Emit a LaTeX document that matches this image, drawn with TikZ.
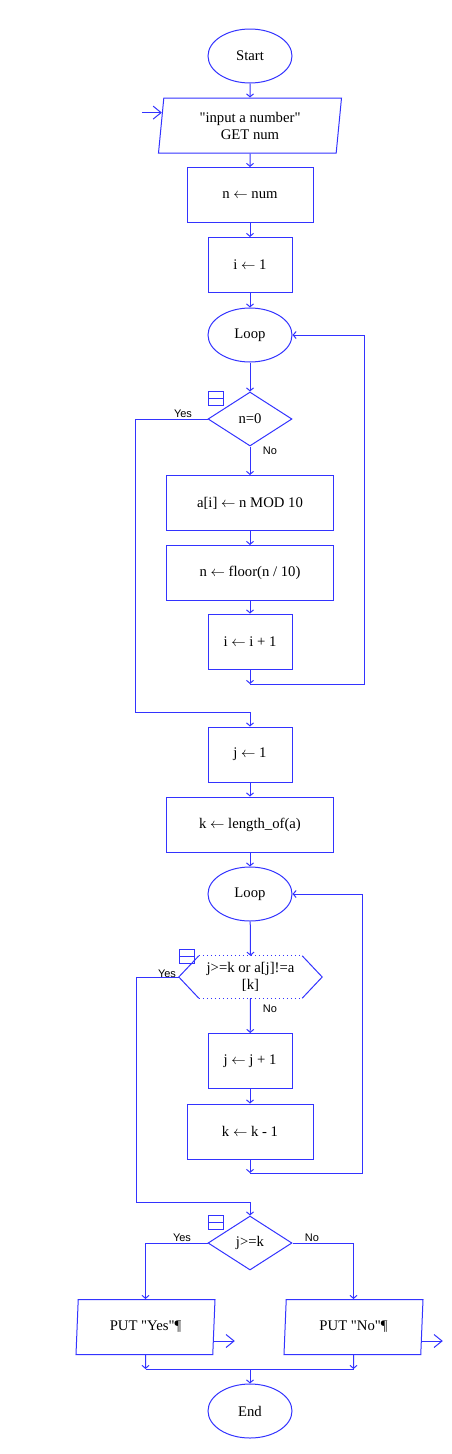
\documentclass[tikz,border=0pt]{standalone}
\usepackage{fontspec}
\setmainfont{Liberation Serif}[Ligatures=TeXOff]
\newfontfamily\lblfont{Liberation Sans}
\usetikzlibrary{shapes.geometric}
\usetikzlibrary{arrows.meta}
\usetikzlibrary{calc}

\definecolor{flowblue}{RGB}{51,51,255}
\newcommand\flowfont{\fontsize{14.7}{17}\selectfont}
\newcommand\assign{\ensuremath{\leftarrow}}

\tikzset{
  line/.style={draw=flowblue,line width=1pt},
  flow/.style={line,-{Straight Barb[length=3pt,width=7pt]}},
  bigarrow/.style={line,-{Straight Barb[length=8pt,width=13pt]}},
  box/.style={line,rectangle,minimum height=55pt,inner sep=0pt,font=\flowfont},
  term/.style={line,ellipse,minimum width=84pt,minimum height=54pt,inner sep=0pt,font=\flowfont},
  io/.style={line,trapezium,trapezium left angle=79,trapezium right angle=101,
    trapezium stretches body,minimum height=55pt,inner sep=0pt,align=center,font=\flowfont},
  test/.style={line,diamond,minimum width=84pt,minimum height=54pt,inner sep=0pt,font=\flowfont},
  lbl/.style={inner sep=0pt,font=\lblfont\fontsize{11}{13}\selectfont}
}

\begin{document}
\begin{tikzpicture}[x=1pt,y=-1pt]
  \useasboundingbox (0,0) rectangle (452,1454);

  % first part: split the number into digits
  \node[term] (start) at (250,56) {Start};
  \node[io,minimum width=183pt] (input) at (250,125.5) {"input a number"\\GET num};
  \node[box,minimum width=126pt] (n1) at (250,195) {n \assign{} num};
  \node[box,minimum width=84pt] (i1) at (250,265) {i \assign{} 1};
  \node[term] (loop1) at (250,335) {Loop};
  \node[test] (cond1) at (250,419) {n=0};
  \node[box,minimum width=167pt] (ai) at (250,503) {a[i] \assign{} n MOD 10};
  \node[box,minimum width=167pt] (nf) at (250,573) {n \assign{} floor(n / 10)};
  \node[box,minimum width=84pt] (inc) at (250,641.5) {i \assign{} i + 1};

  % second part: compare the digits
  \node[box,minimum width=84pt] (j1) at (250,754.5) {j \assign{} 1};
  \node[box,minimum width=167pt] (klen) at (250,824.5) {k \assign{} length\_of(a)};
  \node[term] (loop2) at (250,894) {Loop};
  \node[inner sep=0pt,minimum width=103pt,minimum height=42pt,align=center,font=\flowfont]
    (cond2) at (250.5,977) {j>=k or a[j]!=a\\{}[k]};
  \node[box,minimum width=84pt] (jinc) at (250,1061) {j \assign{} j + 1};
  \node[box,minimum width=126pt] (kdec) at (250,1131.5) {k \assign{} k - 1};
  \node[test] (cond3) at (250,1243) {j>=k};
  \node[io,minimum width=139pt] (putyes) at (145.5,1327) {PUT "Yes"¶};
  \node[io,minimum width=139pt] (putno) at (353.5,1327) {PUT "No"¶};
  \node[term] (stop) at (250,1411) {End};

  % hexagon outline
  \coordinate (cond2l) at ($(cond2.west)+(-20,0)$);
  \coordinate (cond2r) at ($(cond2.east)+(20,0)$);
  \draw[line,dash pattern=on 1pt off 3pt] (cond2.north west) -- (cond2.north east);
  \draw[line,dash pattern=on 1pt off 3pt] (cond2.south west) -- (cond2.south east);
  \draw[line] (cond2.north west) -- (cond2l) -- (cond2.south west);
  \draw[line] (cond2.north east) -- (cond2r) -- (cond2.south east);

  % small block icons
  \foreach \x/\y in {208/391,179/949,208/1215} {
    \draw[line] (\x,\y) rectangle ++(15,14);
    \draw[line] (\x,\y+7) -- ++(15,0);
  }

  % labels
  \node[lbl] (yes1) at (183,414) {Yes};
  \node[lbl] (no1) at (270,451) {No};
  \node[lbl] (yes2) at (167,974) {Yes};
  \node[lbl] (no2) at (270,1009) {No};
  \node[lbl] (yes3) at (182,1238) {Yes};
  \node[lbl] (no3) at (312,1238) {No};

  % input and output arrows
  \coordinate (inflow) at ($(input.top left corner)!0.27!(input.bottom left corner)$);
  \coordinate (instart) at ($(inflow)+(-20,0)$);
  \draw[bigarrow] (instart) -- (inflow);
  \coordinate (outyes) at ($(putyes.bottom right corner)!0.25!(putyes.top right corner)$);
  \coordinate (outno) at ($(putno.bottom right corner)!0.25!(putno.top right corner)$);
  \draw[bigarrow] (outyes) -- ++(21,0);
  \draw[bigarrow] (outno) -- ++(21,0);

  % connectors
  \draw[flow] (start) -- (input);
  \draw[flow] (input) -- (n1);
  \draw[flow] (n1) -- (i1);
  \draw[flow] (i1) -- (loop1);
  \draw[flow] (loop1) -- (cond1);
  \draw[flow] (cond1) -- (ai);
  \draw[flow] (ai) -- (nf);
  \draw[flow] (nf) -- (inc);
  \coordinate (back1) at (250,684);
  \draw[flow] (inc) -- (back1);
  \draw[flow] (back1) -- ++(114,0) |- (loop1.east);
  \coordinate (join1) at (250,712);
  \draw[line] (cond1.west) -- ++(-72,0) |- (join1);
  \draw[flow] (join1) -- (j1);

  \draw[flow] (j1) -- (klen);
  \draw[flow] (klen) -- (loop2);
  \draw[flow] (loop2) -- (cond2.north);
  \draw[flow] (cond2.south) -- (jinc);
  \draw[flow] (jinc) -- (kdec);
  \coordinate (back2) at (250,1173);
  \draw[flow] (kdec) -- (back2);
  \draw[flow] (back2) -- ++(112,0) |- (loop2.east);
  \coordinate (join2) at (250,1202);
  \draw[line] (cond2l) -- ++(-42,0) |- (join2);
  \draw[flow] (join2) -- (cond3);

  \draw[flow] (cond3.west) -| (putyes.north);
  \draw[flow] (cond3.east) -| (putno.north);
  \coordinate (mergel) at (145.5,1369);
  \coordinate (merger) at (353.5,1369);
  \coordinate (merge) at (250,1369);
  \draw[flow] (putyes.south) -- (mergel);
  \draw[flow] (putno.south) -- (merger);
  \draw[line] (mergel) -- (merger);
  \draw[flow] (merge) -- (stop);
\end{tikzpicture}
\end{document}
